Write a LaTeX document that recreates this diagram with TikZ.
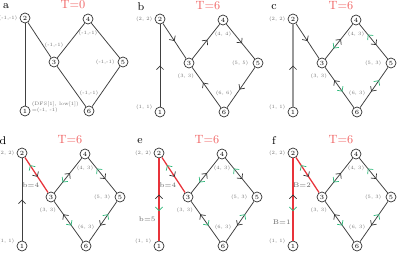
\documentclass[tikz,border=0pt]{standalone}
\usepackage{xcolor}
\definecolor{ttlred}{HTML}{F06464}
\definecolor{cutred}{HTML}{E8333A}
\definecolor{bkgreen}{HTML}{2DB87A}
\usetikzlibrary{arrows.meta,positioning,decorations.markings}

\tikzset{
  vtx/.style={circle,draw=black!80,line width=0.5pt,inner sep=0pt,minimum size=2.5mm,font=\fontsize{4.5}{5}\selectfont},
  lbl/.style={inner sep=0.1mm,text=black!55,font=\fontsize{3.5}{4}\selectfont},
  cutlbl/.style={inner sep=0.2mm,text=black!60,font=\fontsize{4.8}{5}\selectfont},
  ttl/.style={text=ttlred,font=\fontsize{8.5}{9}\selectfont},
  panel/.style={font=\fontsize{8}{9}\selectfont},
  lnk/.style={draw=black!75,line width=0.55pt},
  treelnk/.style={draw=black!40,line width=0.9pt},
  cutedge/.style={draw=cutred,line width=0.9pt},
  fa/.style={postaction={decorate,decoration={markings,
      mark=at position #1 with {\arrow[black!80,line width=0.5pt]{Straight Barb[length=0.9mm,width=1.8mm]}}}}},
  fb/.style 2 args={postaction={decorate,decoration={markings,
      mark=at position #2 with {\arrowreversed[bkgreen,line width=0.5pt]{Straight Barb[length=0.9mm,width=1.8mm]}},
      mark=at position #1 with {\arrow[black!80,line width=0.5pt]{Straight Barb[length=0.9mm,width=1.8mm]}}}}},
}

\begin{document}
\begin{tikzpicture}[x=0.25mm,y=-0.25mm]
  \useasboundingbox (0,0) rectangle (399,254);
  % the six panels share one graph
  \foreach \p/\ox/\oy/\t in {a/25/18/0,b/160/19/6,c/293/19/6,d/22/153/6,e/159/153/6,f/293/153/6}{
    \node[vtx] (\p2) at (\ox,\oy) {2};
    \node[vtx] (\p1) at (\ox,\oy+93) {1};
    \node[vtx] (\p3) at (\ox+29,\oy+44) {3};
    \node[vtx] (\p4) at (\ox+63,\oy+1) {4};
    \node[vtx] (\p5) at (\ox+98,\oy+44) {5};
    \node[vtx] (\p6) at (\ox+64,\oy+93) {6};
    \node[panel] (tag\p) at (\ox-19,\oy-12) {\p};
    \node[ttl] (ttl\p) at (\ox+48,\oy-13) {T=\t};
  }

  % a: before the search
  \draw[lnk] (a1) -- (a2);
  \draw[lnk] (a2) -- (a3);
  \draw[lnk] (a3) -- (a4);
  \draw[lnk] (a4) -- (a5);
  \draw[lnk] (a5) -- (a6);
  \draw[lnk] (a6) -- (a3);
  \node[lbl,left=0.4mm of a2] (a2l) {(-1,-1)};
  \node[lbl,above=2mm of a3] (a3l) {(-1,-1)};
  \node[lbl,below=1.5mm of a4] (a4l) {(-1,-1)};
  \node[lbl,left=0.6mm of a5] (a5l) {(-1,-1)};
  \node[lbl,above=2.4mm of a6] (a6l) {(-1,-1)};
  \node[lbl,align=left,right=0.2mm of a1,yshift=0.9mm] (a1l) {(DFS[1], low[1])\\=(-1, -1)};

  % b: tree edges
  \draw[lnk,fa=0.5] (b1) -- (b2);
  \draw[lnk,fa=0.5] (b2) -- (b3);
  \draw[lnk,fa=0.55] (b3) -- (b4);
  \draw[lnk,fa=0.55] (b4) -- (b5);
  \draw[lnk,fa=0.55] (b5) -- (b6);
  \draw[lnk,fa=0.62] (b6) -- (b3);

  % c-f: cycle with the back direction
  \foreach \p in {c,d,e,f}{
    \draw[lnk,fb={0.57}{0.3}] (\p3) -- (\p4);
    \draw[lnk,fb={0.6}{0.3}] (\p4) -- (\p5);
    \draw[lnk,fb={0.6}{0.32}] (\p5) -- (\p6);
    \draw[lnk,fb={0.68}{0.4}] (\p6) -- (\p3);
  }
  \draw[treelnk,fa=0.5] (c1) -- (c2);
  \draw[lnk,fa=0.5] (c2) -- (c3);
  \draw[lnk,fa=0.5] (d1) -- (d2);
  \draw[cutedge,fb={0.55}{0.22}] (d2) -- (d3) node[cutlbl,pos=0.78,left=0.6mm] (d23l) {b=4};
  \draw[cutedge,fb={0.56}{0.36}] (e1) -- (e2) node[cutlbl,pos=0.26,left=0.5mm] (e12l) {b=5};
  \draw[cutedge,fb={0.55}{0.22}] (e2) -- (e3) node[cutlbl,pos=0.78,left=0.6mm] (e23l) {b=4};
  \draw[cutedge,fb={0.56}{0.36}] (f1) -- (f2) node[cutlbl,pos=0.23,left=0.2mm] (f12l) {B=1};
  \draw[cutedge,fb={0.55}{0.22}] (f2) -- (f3) node[cutlbl,pos=0.78,left=0.4mm] (f23l) {B=2};

  % (DFS, low) after the search
  \foreach \p/\la/\lb/\lc/\ld/\le/\lf in {b/1/2/3/4/5/6,c/1/2/3/3/3/3,d/1/2/3/3/3/3,e/1/2/3/3/3/3,f/1/2/3/3/3/3}{
    \node[lbl,left=0.4mm of \p1,yshift=1.25mm] (\p1l) {(1, \la)};
    \node[lbl,left=0.4mm of \p2] (\p2l) {(2, \lb)};
    \node[lbl,below=1.1mm of \p3,xshift=-0.8mm] (\p3l) {(3, \lc)};
    \node[lbl,below=1.5mm of \p4] (\p4l) {(4, \ld)};
    \node[lbl,left=0.9mm of \p5] (\p5l) {(5, \le)};
    \node[lbl,above=2.6mm of \p6] (\p6l) {(6, \lf)};
  }
\end{tikzpicture}
\end{document}
